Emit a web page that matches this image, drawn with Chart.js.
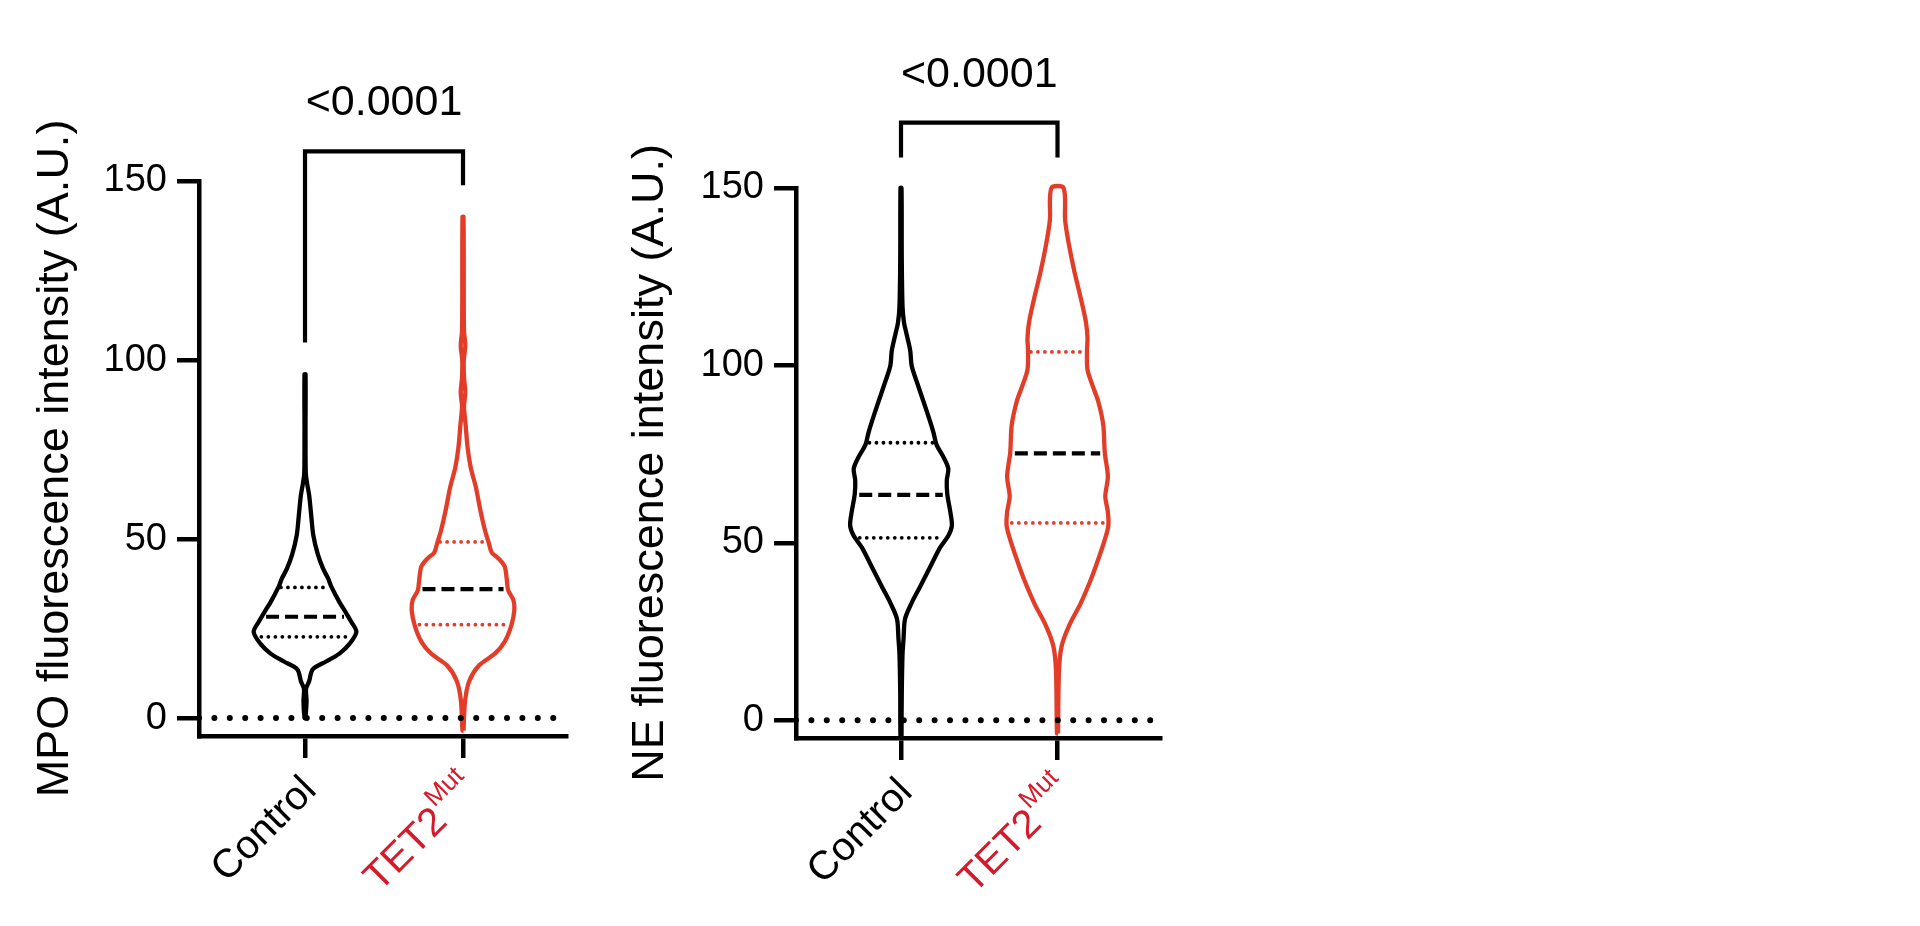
<!DOCTYPE html>
<html>
<head>
<meta charset="utf-8">
<script src="https://cdn.jsdelivr.net/npm/chart.js@4.4.1/dist/chart.umd.min.js"></script>
<style>
  html, body { margin: 0; padding: 0; background: #fff; }
  body { width: 1920px; height: 926px; position: relative; overflow: hidden; }
  canvas { position: absolute; top: 0; }
</style>
</head>
<body>
<canvas id="mpoChart" width="600" height="926" style="left:0"></canvas>
<canvas id="neChart" width="600" height="926" style="left:598px"></canvas>
<script>
// categories and axis ticks
const groupLabels = ['Control', 'TET2'];
const groupSuperscripts = ['', 'Mut'];
const xTicks = [0, 1];
const yTicks = [0, 50, 100, 150];

// MPO violins: intensity level and relative density at that level
const mpoCtrlLevels = [0, 4.8, 8.1, 10.3, 13.6, 15.8, 18, 20.8, 24.1, 26.9, 29.6, 32.4, 36.8, 39, 41.8, 45.7, 51.2, 56.7, 62.3, 65.6, 68.4, 80, 96];
const mpoCtrlDensity = [0.01, 0.03, 0.02, 0.08, 0.15, 0.41, 0.67, 0.87, 1.0, 0.9, 0.79, 0.67, 0.51, 0.45, 0.35, 0.25, 0.16, 0.12, 0.08, 0.04, 0.015, 0.01, 0.01];
const mpoTetLevels = [-3.5, 4.8, 10.3, 14.7, 18, 21.3, 25.8, 30.2, 33, 35.7, 39, 42.4, 44.6, 46.2, 49, 52.3, 57.9, 64.5, 70, 75.5, 82, 87, 91, 95, 100, 104, 108, 115, 140];
const mpoTetDensity = [0.01, 0.04, 0.12, 0.31, 0.62, 0.81, 0.94, 1.0, 0.98, 0.88, 0.85, 0.81, 0.69, 0.56, 0.5, 0.43, 0.34, 0.25, 0.15, 0.09, 0.05, 0.02, 0.045, 0.02, 0.015, 0.045, 0.02, 0.015, 0.01];
// [lower quartile, median, upper quartile] per group
const mpoQuartiles = [[22.7, 28.3, 36.5], [26.1, 36, 49.2]];

// NE violins
const neCtrlLevels = [-4.8, 7.5, 18.6, 23, 28.6, 33.1, 37.5, 43.1, 48.7, 52, 54.8, 58.7, 63.7, 67.6, 70.9, 74.3, 77.6, 81, 84.3, 89.9, 95.4, 99.9, 104.3, 108.8, 112, 116.6, 130, 150];
const neCtrlDensity = [0.01, 0.015, 0.03, 0.05, 0.08, 0.21, 0.37, 0.57, 0.77, 0.93, 1.0, 0.97, 0.91, 0.9, 0.93, 0.83, 0.7, 0.64, 0.57, 0.44, 0.31, 0.21, 0.18, 0.11, 0.06, 0.03, 0.015, 0.01];
const neTetLevels = [-3.7, 14.1, 20.8, 26.4, 33.1, 39.8, 45.3, 50.9, 54.8, 58.7, 63.1, 68.7, 75.4, 83.2, 89.9, 94.3, 98.8, 104.3, 107.7, 112.1, 118.8, 126.6, 134.4, 141, 150];
const neTetDensity = [0.01, 0.03, 0.08, 0.22, 0.46, 0.66, 0.8, 0.93, 1.0, 0.99, 0.94, 0.99, 0.93, 0.9, 0.8, 0.69, 0.59, 0.58, 0.59, 0.56, 0.46, 0.33, 0.22, 0.15, 0.12];
const neQuartiles = [[51.4, 63.5, 78.2], [55.6, 75.2, 103.8]];

// significance brackets: top of bracket and where each leg stops
const mpoBracketTop = 158.3;
const mpoBracketLegs = [104.9, 148.8];
const neBracketTop = 168.4;
const neBracketLegs = [158.6, 158.6];
const pValues = ['<0.0001', '<0.0001'];

const FONT = '"Liberation Sans", Arial, Helvetica, sans-serif';
const RED = '#e23d28';
const LABEL_RED = '#d51a2b';
const X_MIN = -0.671, X_MAX = 1.655;
const HALF_WIDTH = 0.325; // widest violin half-width, in category units

function violinOutline(center, levels, density) {
  const peak = Math.max(...density);
  const right = levels.map((y, i) => ({ x: center + density[i] / peak * HALF_WIDTH, y: y }));
  const left = levels.map((y, i) => ({ x: center - density[i] / peak * HALF_WIDTH, y: y })).reverse();
  return right.concat(left, [right[0]]);
}

function widthAt(levels, density, v) {
  const peak = Math.max(...density);
  for (let i = 1; i < levels.length; i++) {
    if (v <= levels[i]) {
      const t = (v - levels[i - 1]) / (levels[i] - levels[i - 1]);
      return (density[i - 1] + t * (density[i] - density[i - 1])) / peak * HALF_WIDTH;
    }
  }
  return 0;
}

function hLine(center, halfW, y, color, dash, width) {
  return {
    data: [{ x: center - halfW, y: y }, { x: center + halfW, y: y }],
    borderColor: color, borderWidth: width, borderDash: dash,
    borderCapStyle: dash[0] === 0 ? 'round' : 'butt', clip: false
  };
}

function buildDatasets(violins, quartiles, bracketTop, legs) {
  const sets = [];
  // dotted zero line
  sets.push({
    data: [{ x: X_MIN, y: 0 }, { x: X_MAX, y: 0 }],
    borderColor: '#000', borderWidth: 6, borderDash: [0, 15.4], borderCapStyle: 'round'
  });
  violins.forEach((v, i) => {
    const color = i === 0 ? '#000' : RED;
    sets.push({
      data: violinOutline(xTicks[i], v.levels, v.density),
      borderColor: color, borderWidth: 4.3, tension: 0.3, capBezierPoints: false,
      borderJoinStyle: 'round', clip: false
    });
    const q = quartiles[i];
    const w = q.map(val => widthAt(v.levels, v.density, val) * 0.9);
    sets.push(hLine(xTicks[i], w[0], q[0], color, [0, 7], 3.8));
    sets.push(hLine(xTicks[i], w[2], q[2], color, [0, 7], 3.8));
    sets.push(hLine(xTicks[i], w[1], q[1], '#000', [13, 6], 4.2));
  });
  // bracket
  sets.push({
    data: [
      { x: xTicks[0], y: legs[0] }, { x: xTicks[0], y: bracketTop },
      { x: xTicks[1], y: bracketTop }, { x: xTicks[1], y: legs[1] }
    ],
    borderColor: '#000', borderWidth: 4.2, borderJoinStyle: 'miter', clip: false
  });
  return sets;
}

const panelText = {
  id: 'panelText',
  afterDraw(chart, args, opts) {
    const { ctx, chartArea, scales: { x, y } } = chart;
    ctx.save();
    ctx.fillStyle = '#000';
    ctx.font = '43px ' + FONT;
    ctx.textAlign = 'center';
    ctx.textBaseline = 'middle';
    ctx.fillText(opts.pValue, x.getPixelForValue(0.5), y.getPixelForValue(opts.bracketTop) - 48);

    groupLabels.forEach((label, i) => {
      ctx.save();
      const dx = groupSuperscripts[i] ? 17 : 13;
      ctx.translate(x.getPixelForValue(xTicks[i]) + dx, chartArea.bottom + 56);
      ctx.rotate(-Math.PI / 4);
      ctx.textAlign = 'right';
      ctx.textBaseline = 'alphabetic';
      let offset = 0;
      if (groupSuperscripts[i]) {
        ctx.fillStyle = LABEL_RED;
        ctx.font = '26px ' + FONT;
        ctx.fillText(groupSuperscripts[i], 0, -21);
        offset = ctx.measureText(groupSuperscripts[i]).width + 1;
      } else {
        ctx.fillStyle = '#000';
      }
      ctx.font = '40px ' + FONT;
      ctx.fillText(label, -offset, 0);
      ctx.restore();
    });
    ctx.restore();
  }
};

function makePanel(id, p) {
  const axisLine = { display: true, width: 4.5, color: '#000' };
  const tickMarks = { drawOnChartArea: false, drawTicks: true, tickLength: 22, lineWidth: 4.5, color: '#000' };
  return new Chart(document.getElementById(id), {
    type: 'line',
    data: { datasets: buildDatasets(p.violins, p.quartiles, p.bracketTop, p.legs) },
    options: {
      responsive: false,
      animation: false,
      events: [],
      layout: { padding: { top: p.top, right: p.right, bottom: 0, left: 0 } },
      elements: { point: { radius: 0 } },
      plugins: {
        legend: { display: false },
        tooltip: { enabled: false },
        panelText: { pValue: p.pValue, bracketTop: p.bracketTop }
      },
      scales: {
        x: {
          type: 'linear', min: X_MIN, max: X_MAX,
          afterBuildTicks: s => { s.ticks = xTicks.map(v => ({ value: v })); },
          afterFit: s => { s.height = p.xHeight; },
          ticks: { display: false },
          grid: tickMarks,
          border: axisLine
        },
        y: {
          type: 'linear', min: -5, max: 150,
          afterBuildTicks: s => { s.ticks = yTicks.map(v => ({ value: v })); },
          afterFit: s => { s.width = p.yWidth; },
          ticks: { color: '#000', padding: 10, font: { family: FONT, size: 38 } },
          grid: tickMarks,
          border: axisLine,
          title: {
            display: true, text: p.title, color: '#000',
            font: { family: FONT, size: 45 },
            padding: { top: p.titlePad, bottom: 0 }
          }
        }
      }
    },
    plugins: [panelText]
  });
}

makePanel('mpoChart', {
  violins: [
    { levels: mpoCtrlLevels, density: mpoCtrlDensity },
    { levels: mpoTetLevels, density: mpoTetDensity }
  ],
  quartiles: mpoQuartiles,
  bracketTop: mpoBracketTop,
  legs: mpoBracketLegs,
  pValue: pValues[0],
  title: 'MPO fluorescence intensity (A.U.)',
  top: 181, right: 33.5, xHeight: 190, yWidth: 199, titlePad: 29
});

makePanel('neChart', {
  violins: [
    { levels: neCtrlLevels, density: neCtrlDensity },
    { levels: neTetLevels, density: neTetDensity }
  ],
  quartiles: neQuartiles,
  bracketTop: neBracketTop,
  legs: neBracketLegs,
  pValue: pValues[1],
  title: 'NE fluorescence intensity (A.U.)',
  top: 188, right: 38, xHeight: 188, yWidth: 198, titlePad: 26
});
</script>
</body>
</html>
